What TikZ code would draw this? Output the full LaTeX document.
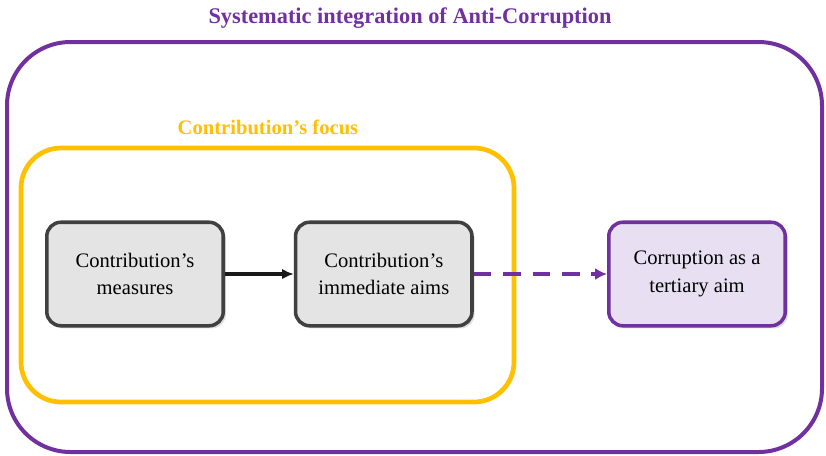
\documentclass[tikz,border=0pt]{standalone}
\usepackage{fontspec}
\setmainfont{Liberation Serif}
\usetikzlibrary{positioning,arrows.meta,shadows}
\definecolor{violet}{HTML}{7030A0}
\definecolor{amber}{HTML}{FFC000}
\definecolor{boxgray}{HTML}{E4E4E4}
\definecolor{lilac}{HTML}{E8DFF2}

\begin{document}
\begin{tikzpicture}
    [x=0.85pt,y=-0.85pt,
     stage/.style={rectangle,rounded corners=12pt,draw=black!75,fill=boxgray,
       line width=3pt,minimum width=150pt,minimum height=88pt,align=center,
       font=\fontsize{17.5}{23.5}\selectfont,drop shadow={opacity=0.25}},
     frame/.style={rounded corners=54pt,line width=3.4pt}]

    \useasboundingbox (0,0) rectangle (826,455);

    \draw[frame,violet] (7,42) rectangle (822,452);
    \node[violet,font=\bfseries\fontsize{19}{22}\selectfont] (title) at (410,18)
      {Systematic integration of Anti-Corruption};

    \draw[frame,amber,line width=4pt,rounded corners=34pt] (21,148) rectangle (514,402);
    \node[amber,font=\bfseries\fontsize{17.5}{20}\selectfont] (focus) at (268,127)
      {Contribution’s focus};

    \node[stage] (measures) at (135,274) {Contribution’s\\measures};
    \node[stage] (aims) [right=of measures,xshift=30pt] {Contribution’s\\immediate aims}
      edge [{Latex[length=10pt,width=9pt]}-,line width=2.6pt,black!90] (measures);
    \node[stage,draw=violet,fill=lilac] (tertiary) at (697,274) {Corruption as a\\tertiary aim};

    \draw[-{Latex[length=10pt,width=10pt]},line width=3pt,violet,dash pattern=on 15pt off 10pt]
      (aims) -- (tertiary);
  \end{tikzpicture}
\end{document}
